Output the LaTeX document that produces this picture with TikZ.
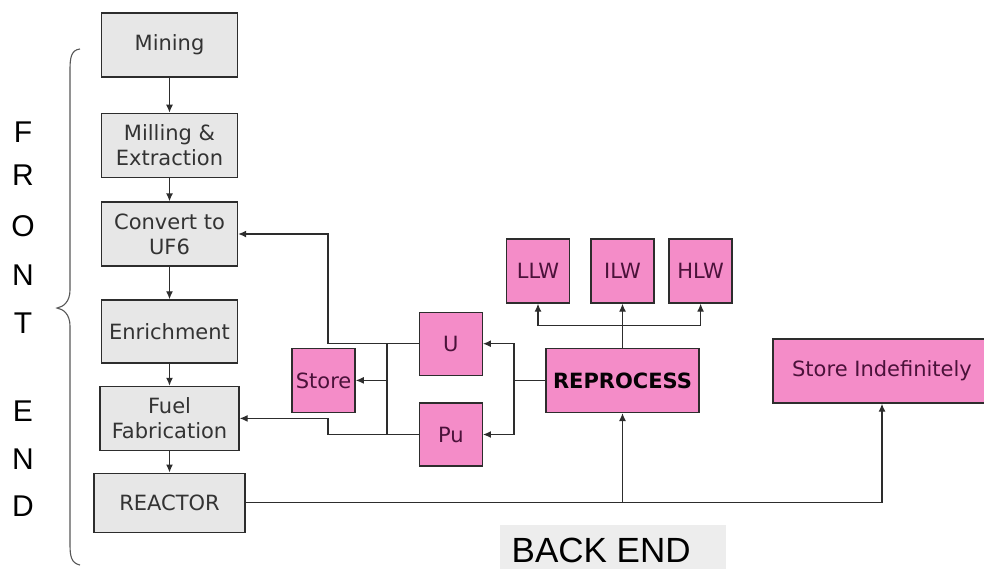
\documentclass[tikz,border=0pt]{standalone}
\usepackage{fontspec}
\setmainfont{DejaVu Sans}
\newfontfamily\arialfont{Liberation Sans}
\usepackage{xcolor}
\usetikzlibrary{arrows.meta}

\definecolor{boxgray}{RGB}{231,231,231}
\definecolor{boxpink}{RGB}{244,140,200}
\definecolor{edgegray}{RGB}{45,45,45}
\definecolor{pinktext}{RGB}{75,18,58}
\definecolor{backgray}{RGB}{237,237,237}

\tikzset{
  front/.style={draw=edgegray,fill=boxgray,inner sep=0pt,text=black!80,align=center,
    font=\fontsize{21}{25}\selectfont},
  waste/.style={draw=edgegray,fill=boxpink,inner sep=0pt,text=pinktext,align=center,
    minimum width=63pt,minimum height=64pt,font=\fontsize{21}{25}\selectfont},
  letter/.style={inner sep=0pt,font=\arialfont\fontsize{30}{30}\selectfont}
}

\begin{document}
\begin{tikzpicture}[x=1pt,y=-1pt,>={Latex[length=8pt,width=7pt]},line width=1.3pt]
  \useasboundingbox (0,0) rectangle (984,568);

  % front end chain
  \node[front,minimum width=136pt,minimum height=64pt] (mining) at (169.5,45) {Mining};
  \node[front,minimum width=136pt,minimum height=64pt] (milling) at (169.5,145.3) {Milling \&\\Extraction};
  \node[front,minimum width=136pt,minimum height=64pt] (convert) at (169.5,234) {Convert to\\UF6};
  \node[front,minimum width=136pt,minimum height=63pt] (enrich) at (169.5,331.4) {Enrichment};
  \node[front,minimum width=139pt,minimum height=64pt] (fuel) at (169.5,418.4) {Fuel\\Fabrication};
  \node[front,minimum width=151pt,minimum height=59pt] (reactor) at (169.5,502.7) {REACTOR};

  \draw[->,edgegray] (mining) -- (milling);
  \draw[->,edgegray] (milling) -- (convert);
  \draw[->,edgegray] (convert) -- (enrich);
  \draw[->,edgegray] (enrich) -- (fuel);
  \draw[->,edgegray] (fuel) -- (reactor);

  % brace and letters
  \draw[edgegray!80,line width=1.1pt] (80,49) .. controls (71,50) and (70,58) .. (70,70)
    -- (70,290) .. controls (70,302) and (63,307) .. (57,308)
    .. controls (63,309) and (70,314) .. (70,326)
    -- (70,544) .. controls (70,556) and (71,563) .. (80,565);
  \foreach \l/\y [count=\i] in {F/132.5,R/175,O/226.5,N/275,T/323.5,E/411,N/459,D/506}
    \node[letter] (front\i) at (23,\y) {\l};

  % back end boxes
  \node[waste] (store) at (323.6,380.4) {Store};
  \node[waste,minimum height=63pt] (u) at (450.8,343.7) {U};
  \node[waste,minimum height=63pt] (pu) at (450.8,434.5) {Pu};
  \node[waste,minimum width=153pt,text=black!90!pinktext,font=\bfseries\fontsize{21}{25}\selectfont]
    (reprocess) at (622.5,380.4) {REPROCESS};
  \node[waste] (llw) at (538,271) {LLW};
  \node[waste] (ilw) at (622.5,271) {ILW};
  \node[waste] (hlw) at (700.6,271) {HLW};
  \node[waste,minimum width=218pt] (storeind) at (882,371) {Store Indefinitely};

  \coordinate (splitx) at (328,0);
  \coordinate (storex) at (387,0);
  \coordinate (repx) at (514,0);
  \coordinate (wastey) at (0,325.7);

  % recycling back to the front end
  \draw[->,edgegray] (u.west) -- (u.west -| splitx) |- (convert.east);
  \draw[->,edgegray] (pu.west) -- (pu.west -| splitx) |- (fuel.east);
  \draw[edgegray] (u.west -| storex) -- (pu.west -| storex);
  \draw[->,edgegray] (store.east -| storex) -- (store.east);

  % reprocessing outputs
  \draw[->,edgegray] (reprocess.west) -- (reprocess.west -| repx) |- (u.east);
  \draw[->,edgegray] (reprocess.west -| repx) |- (pu.east);
  \draw[->,edgegray] (reprocess.north) -- (ilw.south);
  \draw[->,edgegray] (reprocess.north |- wastey) -| (llw.south);
  \draw[->,edgegray] (reprocess.north |- wastey) -| (hlw.south);

  % spent fuel
  \draw[->,edgegray] (reactor.east) -| (storeind.south);
  \draw[->,edgegray] (reactor.east -| reprocess.south) -- (reprocess.south);

  \fill[backgray] (500,525) rectangle (726,572);
  \node[inner sep=0pt,anchor=base west,font=\arialfont\fontsize{35}{35}\selectfont]
    (backend) at (511,562) {BACK END};
\end{tikzpicture}
\end{document}
